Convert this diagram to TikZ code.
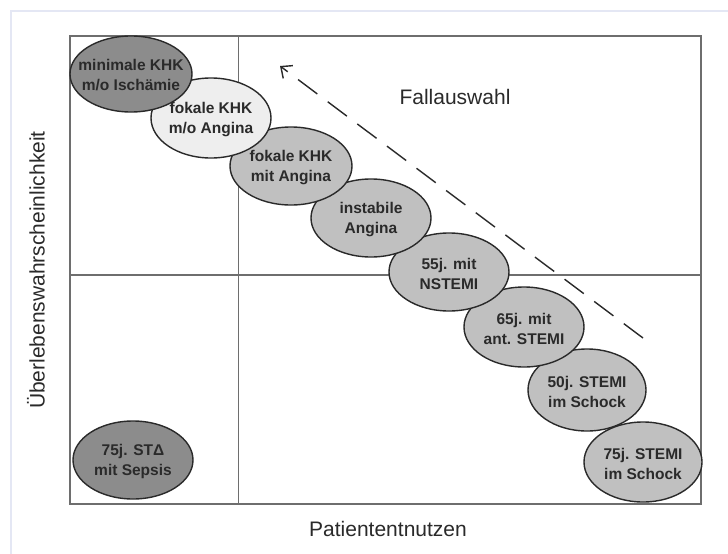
\documentclass[tikz,border=0pt]{standalone}
\usepackage{fontspec}
\setmainfont{Liberation Sans}
\usetikzlibrary{shapes.geometric,arrows.meta}
\definecolor{frameblue}{HTML}{E4E7F4}
\definecolor{boxgrey}{HTML}{6E6E6E}
\definecolor{dark}{HTML}{8C8C8C}
\definecolor{mid}{HTML}{C0C0C0}
\definecolor{light}{HTML}{EEEEEE}
\definecolor{txt}{HTML}{2A2A2A}
\tikzset{
  ell/.style={ellipse, draw=txt, line width=1.4pt, minimum width=120pt, minimum height=78pt,
    inner sep=0pt, outer sep=0pt},
  lbl/.style={inner sep=0pt, align=center, text=txt, yshift=-1.5pt, font=\fontsize{15.5}{20}\selectfont\bfseries},
  axislabel/.style={text=txt, font=\fontsize{21}{25}\selectfont},
  grid/.style={draw=boxgrey, line width=1.5pt}
}
\begin{document}
\begin{tikzpicture}[x=1pt,y=-1pt]
\useasboundingbox (0,0) rectangle (728,554);
\fill[white] (0,0) rectangle (728,554);
% outer light frame
\draw[frameblue, line width=2pt] (11,554) -- (11,11) -- (728,11);
% plot box and dividers
\draw[grid] (70,36) rectangle (701,504);
\draw[grid] (238.5,36) -- (238.5,504);
\draw[grid] (70,275) -- (701,275);
% ellipses (drawn lower-right first so upper-left overlaps)
\node[ell, fill=mid, minimum width=118pt, minimum height=80pt] (e8) at (643,462) {};
\node[ell, fill=mid, minimum width=118pt, minimum height=82pt] (e7) at (587,390) {};
\node[ell, fill=mid, minimum height=80pt] (e6) at (524,327) {};
\node[ell, fill=mid] (e5) at (449,272) {};
\node[ell, fill=mid] (e4) at (371,218) {};
\node[ell, fill=mid, minimum width=122pt] (e3) at (291,166) {};
\node[ell, fill=light, minimum height=80pt] (e2) at (211,118) {};
\node[ell, fill=dark, minimum width=122pt, minimum height=76pt] (e1) at (131,74) {};
\node[ell, fill=dark] (e9) at (133,460) {};
% labels inside ellipses
\node[lbl] (t1) at (e1) {minimale KHK\\m/o Ischämie};
\node[lbl] (t2) at (e2) {fokale KHK\\m/o Angina};
\node[lbl] (t3) at (e3) {fokale KHK\\mit Angina};
\node[lbl] (t4) at (e4) {instabile\\Angina};
\node[lbl] (t5) at (e5) {55j. mit\\NSTEMI};
\node[lbl] (t6) at (e6) {65j. mit\\ant. STEMI};
\node[lbl] (t7) at (e7) {50j. STEMI\\im Schock};
\node[lbl] (t8) at (e8) {75j. STEMI\\im Schock};
\node[lbl] (t9) at (e9) {75j. STΔ\\mit Sepsis};
% dashed arrow
\coordinate (aS) at (643,338);
\coordinate (aE) at (280,66);
\draw[txt, line width=1.4pt, dash pattern=on 24pt off 13pt, -{Straight Barb[length=9pt,width=16pt]}] (aS) -- (aE);
% axis labels
\node[axislabel] (fall) at (455,97) {Fallauswahl};
\node[axislabel] (xl) at (388,529) {Patiententnutzen};
\node[axislabel, rotate=90] (yl) at (36,270) {Überlebenswahrscheinlichkeit};
\end{tikzpicture}
\end{document}
